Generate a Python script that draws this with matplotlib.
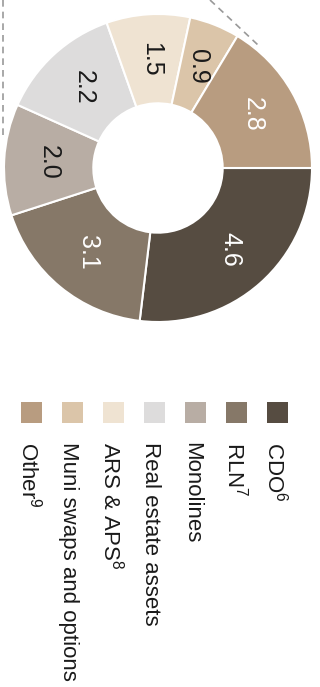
import matplotlib
matplotlib.use("Agg")
import matplotlib.pyplot as plt
from matplotlib.patches import Rectangle

plt.rcParams['font.family'] = ['Liberation Sans', 'DejaVu Sans']
plt.rcParams['mathtext.default'] = 'regular'

# 数据
categories = ['CDO$^{6}$', 'RLN$^{7}$', 'Monolines', 'Real estate assets',
              'ARS & APS$^{8}$', 'Muni swaps and options', 'Other$^{9}$']
values = [4.6, 3.1, 2.0, 2.2, 1.5, 0.9, 2.8]
labels = ['4.6', '3.1', '2.0', '2.2', '1.5', '0.9', '2.8']
colors = ['#564c41', '#867868', '#b8ada4', '#dddcdc', '#efe3d2', '#dbc5a9', '#b89c80']
label_colors = ['white', 'white', '#1a1a1a', '#1a1a1a', '#1a1a1a', '#1a1a1a', 'white']

W, H = 320, 687
fig = plt.figure(figsize=(W / 100, H / 100), dpi=100)

# 背景层(像素坐标): 图例和虚线
bg = fig.add_axes([0, 0, 1, 1])
bg.set_xlim(0, W)
bg.set_ylim(H, 0)
bg.axis('off')

bg.plot([3, 3], [0, 140], ls=(0, (4, 3)), color='#999999', lw=1.2)
bg.plot([210, 258], [0, 45], ls=(0, (4, 3)), color='#999999', lw=1.2)

# 环形图
cx, cy, r = 158, 168, 154
ax = fig.add_axes([(cx - r) / W, 1 - (cy + r) / H, 2 * r / W, 2 * r / H])
wedges, texts = ax.pie(values, colors=colors, startangle=0, counterclock=False,
                       labels=labels, labeldistance=0.71,
                       wedgeprops=dict(width=0.58, edgecolor='white', linewidth=1.5),
                       textprops=dict(fontsize=18, rotation=-90, ha='center', va='center'))
for t, c in zip(texts, label_colors):
    t.set_color(c)
ax.set_xlim(-1, 1)
ax.set_ylim(-1, 1)
ax.set_aspect('equal')
ax.axis('off')

# 图例(旋转)
for i, (name, col) in enumerate(zip(categories, colors)):
    x0 = 267 - 41 * i
    bg.add_patch(Rectangle((x0, 402), 21, 21, facecolor=col, edgecolor='none'))
    bg.text(x0 + 1, 442, name, rotation=-90, rotation_mode='anchor',
            ha='left', va='baseline', fontsize=16, color='#1a1a1a')

plt.savefig('out.png', dpi=100)
